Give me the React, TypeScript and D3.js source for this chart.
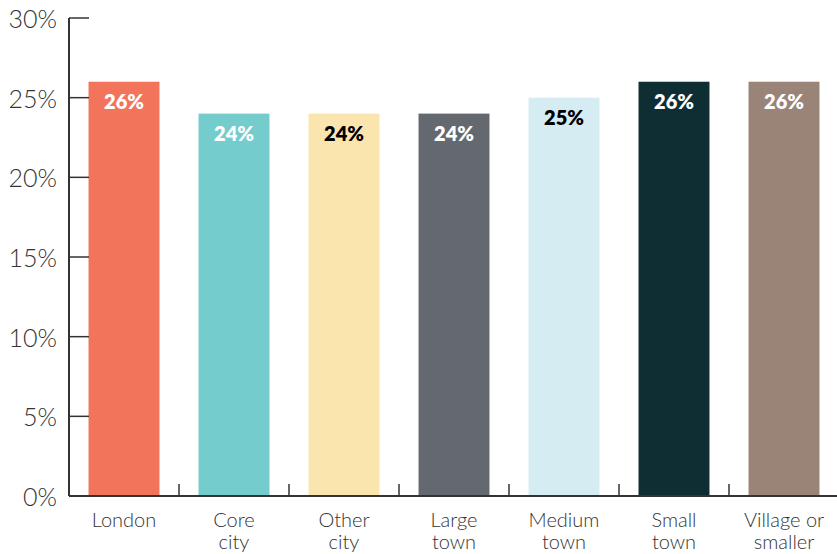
import React from "react";
import * as d3 from "d3";

const categories = ["London", "Core city", "Other city", "Large town", "Medium town", "Small town", "Village or smaller"];
const categoryLines = [["London"], ["Core", "city"], ["Other", "city"], ["Large", "town"], ["Medium", "town"], ["Small", "town"], ["Village or", "smaller"]];
const values = [26, 24, 24, 24, 25, 26, 26];
const colors = ["#F1745B", "#74CCCD", "#FBE5AE", "#646970", "#D5ECF3", "#0F2E33", "#9A8377"];
const labelColors = ["#fff", "#fff", "#000", "#fff", "#000", "#fff", "#fff"];
const yTicks = [0, 5, 10, 15, 20, 25, 30];

const W = 837, H = 554;
const left = 69, bottom = 496, top = 18;

export default function App() {
  const x = d3.scaleBand<string>().domain(categories).range([left, left + 770]).paddingInner(0.355).paddingOuter(0.1775);
  const y = d3.scaleLinear().domain([0, 30]).range([bottom, top]);
  const step = x.step();
  const font = "Lato, 'Noto Sans', sans-serif";
  return (
    <svg width={W} height={H} style={{ position: "absolute", left: 0, top: 0, background: "#fff" }}>
      {categories.map((c, i) => (
        <rect key={c} x={x(c)} y={y(values[i])} width={x.bandwidth()} height={y(0) - y(values[i])} fill={colors[i]} />
      ))}
      {categories.map((c, i) => (
        <text key={c + "v"} x={x(c)! + x.bandwidth() / 2} y={y(values[i]) + 27} textAnchor="middle" fontFamily={font} fontWeight={800} fontSize={20} fill={labelColors[i]}>
          {values[i]}%
        </text>
      ))}
      <line x1={left} x2={left} y1={top} y2={bottom} stroke="#333" strokeWidth={2} />
      <line x1={left} x2={W} y1={bottom} y2={bottom} stroke="#333" strokeWidth={2} />
      {yTicks.map((t) => (
        <g key={t}>
          <line x1={left} x2={left + 20} y1={y(t)} y2={y(t)} stroke="#333" strokeWidth={1.5} />
          <text x={57} y={y(t) + 10} textAnchor="end" fontFamily={font} fontWeight={300} fontSize={25} fill="#333">{t}%</text>
        </g>
      ))}
      {categories.slice(1).map((c) => (
        <line key={c + "t"} x1={x(c)! - (step - x.bandwidth()) / 2} x2={x(c)! - (step - x.bandwidth()) / 2} y1={bottom - 12} y2={bottom} stroke="#333" strokeWidth={1.5} />
      ))}
      {categories.map((c, i) => (
        <text key={c + "l"} textAnchor="middle" fontFamily={font} fontWeight={300} fontSize={20} fill="#333">
          {categoryLines[i].map((ln, j) => (
            <tspan key={j} x={x(c)! + x.bandwidth() / 2} y={527 + j * 22}>{ln}</tspan>
          ))}
        </text>
      ))}
    </svg>
  );
}
